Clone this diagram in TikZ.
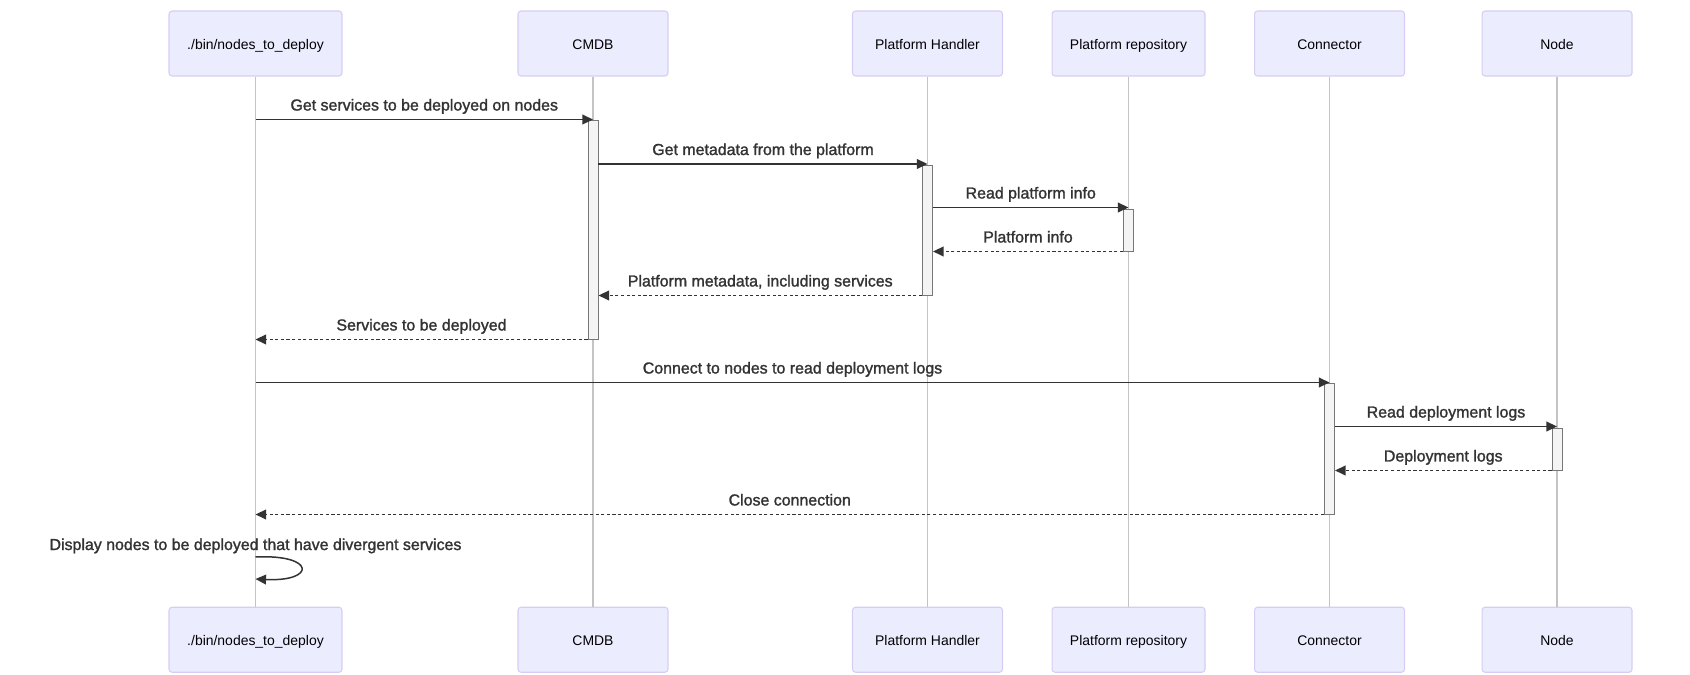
\documentclass[tikz,border=0pt]{standalone}
\usepackage{fontspec}
\setmainfont{Liberation Sans}
\newfontfamily\msgfont[FakeBold=1.5]{Liberation Sans}
\usetikzlibrary{arrows.meta,fit}
\definecolor{actorfill}{HTML}{ECECFF}
\definecolor{actorline}{HTML}{D7CDF4}
\definecolor{lifeline}{HTML}{C4C4C4}
\definecolor{actfill}{HTML}{F4F4F4}
\definecolor{actline}{HTML}{777777}
\definecolor{msgcol}{HTML}{333333}

\begin{document}
\begin{tikzpicture}[x=0.02cm,y=-0.02cm,
  actor/.style={draw=actorline,fill=actorfill,line width=0.6pt,rounded corners=0.06cm,minimum width=3cm,minimum height=1.3cm,text height=1.6ex,text depth=0.4ex,font=\fontsize{7.94}{9}\selectfont,text=black},
  life/.style={draw=lifeline,line width=0.6pt},
  act/.style={draw=actline,fill=actfill,line width=0.55pt,inner sep=0pt,minimum width=0.2cm},
  msg/.style={draw=msgcol,line width=0.85pt,-{Triangle[length=6pt,width=5.5pt]}},
  reply/.style={msg,dash pattern=on 1.8pt off 1.4pt},
  lbl/.style={text=msgcol,font=\msgfont\fontsize{9.07}{11}\selectfont,anchor=base,inner sep=0pt,yshift=0.18cm}]
\useasboundingbox (0,0) rectangle (1690,675);

\node[actor,minimum width=3.46cm] (ntdTop) at (255.5,43.5) {./bin/nodes\_to\_deploy};
\node[actor] (cmdbTop) at (593,43.5) {CMDB};
\node[actor] (phTop) at (927.5,43.5) {Platform Handler};
\node[actor,minimum width=3.06cm] (repoTop) at (1128.5,43.5) {Platform repository};
\node[actor] (conTop) at (1329.5,43.5) {Connector};
\node[actor] (nodeTop) at (1557,43.5) {Node};

\node[actor,minimum width=3.46cm] (ntdBot) at (255.5,639.75) {./bin/nodes\_to\_deploy};
\node[actor] (cmdbBot) at (593,639.75) {CMDB};
\node[actor] (phBot) at (927.5,639.75) {Platform Handler};
\node[actor,minimum width=3.06cm] (repoBot) at (1128.5,639.75) {Platform repository};
\node[actor] (conBot) at (1329.5,639.75) {Connector};
\node[actor] (nodeBot) at (1557,639.75) {Node};

\foreach \who in {ntd,cmdb,ph,repo,con,node}
  \draw[life] (\who Top) -- (\who Bot);

\node[act,fit={(593,120)(593,339)}] (actCMDB) {};
\node[act,fit={(927.5,165)(927.5,295)}] (actPH) {};
\node[act,fit={(1128.5,209)(1128.5,251)}] (actRepo) {};
\node[act,fit={(1329.5,383)(1329.5,514)}] (actCon) {};
\node[act,fit={(1557,428)(1557,470)}] (actNode) {};

\draw[msg] (ntdTop |- actCMDB.north) -- node[lbl] (m1) {Get services to be deployed on nodes} (actCMDB.north);
\draw[msg] (actCMDB.east |- 0,164) coordinate (m2a) -- node[lbl] (m2) {Get metadata from the platform} (m2a -| actPH.north);
\draw[msg] (actPH.east |- 0,207.5) coordinate (m3a) -- node[lbl] (m3) {Read platform info} (m3a -| actRepo.north);
\draw[reply] (actRepo.south west) -- node[lbl] (m4) {Platform info} (actPH.east |- actRepo.south);
\draw[reply] (actPH.south west) -- node[lbl] (m5) {Platform metadata, including services} (actCMDB.east |- actPH.south);
\draw[reply] (actCMDB.south west) -- node[lbl] (m6) {Services to be deployed} (ntdTop |- actCMDB.south);
\draw[msg] (ntdTop |- actCon.north) -- node[lbl] (m7) {Connect to nodes to read deployment logs} (actCon.north);
\draw[msg] (actCon.east |- 0,426.5) coordinate (m8a) -- node[lbl] (m8) {Read deployment logs} (m8a -| actNode.north);
\draw[reply] (actNode.south west) -- node[lbl] (m9) {Deployment logs} (actCon.east |- actNode.south);
\draw[reply] (actCon.south west) -- node[lbl] (m10) {Close connection} (ntdTop |- actCon.south);

\coordinate (selfA) at (255.5,557);
\coordinate (selfB) at (255.5,579);
\node[lbl] (m11) at (255.5,559) {Display nodes to be deployed that have divergent services};
\draw[msg] (selfA) .. controls (316,554) and (316,582) .. (selfB);
\end{tikzpicture}
\end{document}
